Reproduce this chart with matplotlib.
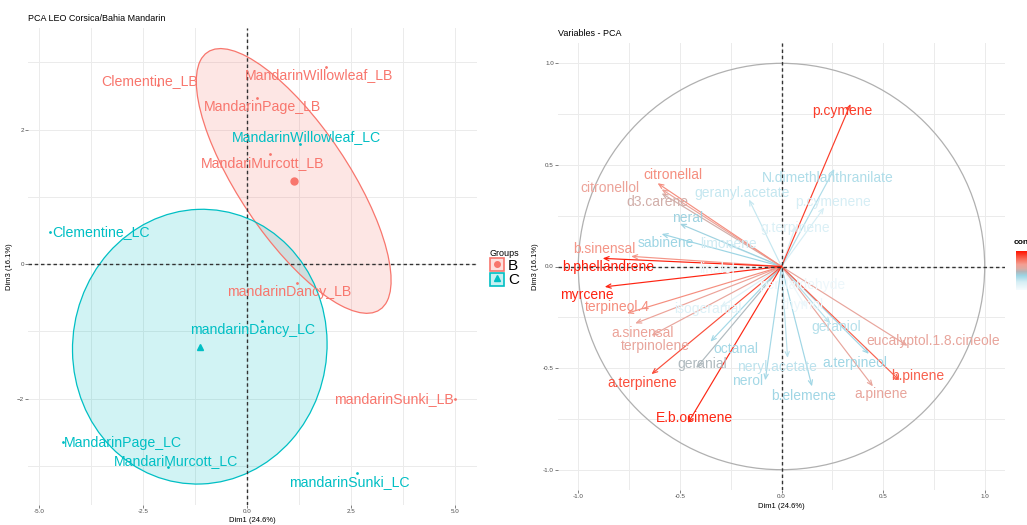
import numpy as np
import matplotlib.pyplot as plt
from matplotlib.patches import Ellipse, Patch, Circle
from matplotlib.lines import Line2D
from matplotlib.legend_handler import HandlerTuple
from matplotlib.colors import LinearSegmentedColormap, Normalize
from matplotlib.cm import ScalarMappable

plt.rcParams['font.family'] = ['Liberation Sans', 'DejaVu Sans']

# ---- individuals (Dim1 / Dim3 scores) ----
ind_names = ['Clementine_LB', 'MandarinWillowleaf_LB', 'MandarinPage_LB', 'MandariMurcott_LB',
             'mandarinDancy_LB', 'mandarinSunki_LB',
             'MandarinWillowleaf_LC', 'Clementine_LC', 'mandarinDancy_LC', 'MandarinPage_LC',
             'MandariMurcott_LC', 'mandarinSunki_LC']
ind_group = ['B'] * 6 + ['C'] * 6
ind_dim1 = [-2.14, 1.90, 0.24, 0.55, 1.20, 5.00, 1.27, -4.74, 0.36, -4.43, -1.90, 2.65]
ind_dim3 = [2.66, 2.93, 2.47, 1.64, -0.28, -2.00, 1.78, 0.48, -0.85, -2.65, -3.02, -3.10]

# ---- variables (correlation circle) ----
var_names = ['p.cymene', 'N.dimethlanthranilate', 'p.cymenene', 'g.terpinene', 'geranyl.acetate',
             'citronellal', 'citronellol', 'd3.carene', 'neral', 'sabinene', 'limonene',
             'b.sinensal', 'b.phellandrene', 'myrcene', 'terpineol.4', 'a.sinensal', 'terpinolene',
             'a.terpinene', 'E.b.ocimene', 'isogeranial', 'octanal', 'geranial', 'neryl.acetate',
             'nerol', 'b.elemene', 'geraniol', 'a.terpineol', 'eucalyptol.1.8.cineole', 'b.pinene',
             'a.pinene', 'linalol', 'perillaldehyde', 'thymol']
var_dim1 = [0.34, 0.26, 0.21, 0.07, -0.16, -0.61, -0.59, -0.59, -0.50, -0.59, -0.27,
            -0.74, -0.88, -0.87, -0.76, -0.72, -0.64, -0.64, -0.46, -0.30, -0.35, -0.42, 0.03,
            -0.08, 0.15, 0.24, 0.43, 0.62, 0.58, 0.45, -0.30, 0.10, 0.12]
var_dim3 = [0.80, 0.48, 0.29, 0.20, 0.33, 0.41, 0.38, 0.36, 0.21, 0.16, 0.11,
            0.05, 0.04, -0.10, -0.23, -0.28, -0.34, -0.53, -0.77, -0.20, -0.37, -0.50, -0.45,
            -0.56, -0.59, -0.28, -0.43, -0.39, -0.56, -0.59, -0.02, -0.10, -0.20]
var_contrib = [0.90, 0.32, 0.20, 0.17, 0.25, 0.70, 0.62, 0.53, 0.38, 0.37, 0.22,
               0.68, 0.97, 0.96, 0.70, 0.62, 0.60, 0.86, 0.95, 0.16, 0.35, 0.46, 0.28,
               0.35, 0.36, 0.30, 0.36, 0.60, 0.82, 0.60, 0.06, 0.06, 0.06]

# label nudges (pixels, x right / y down), ggrepel-like placement
ind_nudge = {'Clementine_LB': (-8, -4), 'MandarinWillowleaf_LB': (-7, 8), 'MandarinPage_LB': (6, 9),
             'MandariMurcott_LB': (-7, 9), 'mandarinDancy_LB': (-8, 9), 'mandarinSunki_LB': (-61, 0),
             'MandarinWillowleaf_LC': (7, -7), 'Clementine_LC': (51, 0), 'mandarinDancy_LC': (-9, 9),
             'MandarinPage_LC': (60, 1), 'MandariMurcott_LC': (8, -6), 'mandarinSunki_LC': (-8, 9)}
var_nudge = {'p.cymene': (-8, 7), 'N.dimethlanthranilate': (-7, 9), 'p.cymenene': (9, -6),
             'g.terpinene': (-1, 2), 'geranyl.acetate': (-7, -6), 'citronellal': (15, -8),
             'citronellol': (-52, -1), 'd3.carene': (-4, 9), 'neral': (8, -6), 'sabinene': (4, 9),
             'limonene': (2, 0), 'b.sinensal': (-27, -7), 'b.phellandrene': (5, 9), 'myrcene': (-18, 8),
             'terpineol.4': (-10, -6), 'a.sinensal': (7, 10), 'terpinolene': (4, 10),
             'a.terpinene': (-9, 9), 'E.b.ocimene': (6, -5), 'isogeranial': (-13, 2), 'octanal': (25, 7),
             'geranial': (6, -4), 'neryl.acetate': (-11, 9), 'nerol': (-18, 1), 'b.elemene': (-8, 10),
             'geraniol': (6, 4), 'a.terpineol': (-14, 9), 'eucalyptol.1.8.cineole': (26, -5),
             'b.pinene': (18, -4), 'a.pinene': (8, 8), 'linalol': (-4, -2), 'perillaldehyde': (0, -2),
             'thymol': (-2, -2)}

group_cols = {'B': '#F8766D', 'C': '#00BFC4'}
px = 72 / 100.0

fig = plt.figure(figsize=(10.27, 5.25), dpi=100)

# ================= left: individuals =================
ax = fig.add_axes([28 / 1027, 20 / 525, 449 / 1027, 477 / 525])
ax.set_xlim(-5.26, 5.53)
ax.set_ylim(-3.58, 3.51)
ax.set_xticks([-5, -2.5, 0, 2.5, 5])
ax.set_xticklabels(['-5.0', '-2.5', '0.0', '2.5', '5.0'])
ax.set_xticks([-3.75, -1.25, 1.25, 3.75], minor=True)
ax.set_yticks([-2, 0, 2])
ax.set_yticks([-3, -1, 1, 3], minor=True)

x1 = np.array(ind_dim1)
y1 = np.array(ind_dim3)
grp = np.array(ind_group)
for g, mk in [('B', 'o'), ('C', '^')]:
    m = grp == g
    col = group_cols[g]
    xs, ys = x1[m], y1[m]
    cov = np.cov(xs, ys)
    vals, vecs = np.linalg.eigh(cov)
    ang = np.degrees(np.arctan2(vecs[1, 1], vecs[0, 1]))
    ax.add_patch(Ellipse((xs.mean(), ys.mean()), 2 * np.sqrt(vals[1]), 2 * np.sqrt(vals[0]),
                         angle=ang, facecolor=col, alpha=0.18, edgecolor='none', zorder=2))
    ax.add_patch(Ellipse((xs.mean(), ys.mean()), 2 * np.sqrt(vals[1]), 2 * np.sqrt(vals[0]),
                         angle=ang, facecolor='none', edgecolor=col, lw=0.9, zorder=3))
    ax.plot(xs, ys, ls='', marker='.', ms=2, color=col, zorder=4)
    ax.plot([xs.mean()], [ys.mean()], ls='', marker=mk, ms=5, color=col, zorder=4)

for n, xv, yv, g in zip(ind_names, ind_dim1, ind_dim3, ind_group):
    dx, dy = ind_nudge[n]
    ax.annotate(n, (xv, yv), xytext=(dx * px, -dy * px), textcoords='offset points',
                ha='center', va='center', fontsize=10.2, color=group_cols[g], zorder=5)

ax.axhline(0, color='#333333', lw=1.0, ls=(0, (2.5, 2)), zorder=3)
ax.axvline(0, color='#333333', lw=1.0, ls=(0, (2.5, 2)), zorder=3)
ax.grid(which='both', color='#EBEBEB', lw=0.7, zorder=0)
ax.set_axisbelow(True)
for s in ax.spines.values():
    s.set_visible(False)
ax.tick_params(which='major', labelsize=4.5, labelcolor='#4D4D4D', color='#4D4D4D',
               length=2, width=0.5, pad=1)
ax.tick_params(which='minor', length=0)
ax.set_xlabel('Dim1 (24.6%)', fontsize=5.5, labelpad=2)
ax.set_ylabel('Dim3 (16.1%)', fontsize=5.5, labelpad=3)
ax.set_title('PCA LEO Corsica/Bahia Mandarin', loc='left', fontsize=6.5, pad=5)

handles = []
for g, mk in [('B', 'o'), ('C', '^')]:
    col = group_cols[g]
    handles.append((Patch(facecolor=col, alpha=0.22, edgecolor='none'),
                    Patch(facecolor='none', edgecolor=col, lw=1.2),
                    Line2D([], [], ls='', marker=mk, ms=4, color=col)))
leg = ax.legend(handles, ['B', 'C'], handler_map={tuple: HandlerTuple(ndivide=1)},
                loc='upper left', bbox_to_anchor=(479 / 1027, 287 / 525),
                bbox_transform=fig.transFigure, frameon=False, fontsize=11,
                title='Groups', title_fontsize=6.5, alignment='left',
                handlelength=0.95, handleheight=0.95, handletextpad=0.25,
                labelspacing=0.0, borderpad=0.2)

# ================= right: variables =================
cmap = LinearSegmentedColormap.from_list('contrib', [
    (0.0, '#f6fbfd'), (0.2, '#d6eef5'), (0.37, '#9dd5e4'), (0.47, '#b2b7ba'),
    (0.55, '#dcaba3'), (0.65, '#f3a094'), (0.78, '#f7725f'), (1.0, '#ff1200')])
norm = Normalize(0, 1)

ax2 = fig.add_axes([558 / 1027, 35 / 525, 447 / 1027, 447 / 525])
ax2.set_xlim(-1.10, 1.10)
ax2.set_ylim(-1.10, 1.10)
ax2.set_xticks([-1, -0.5, 0, 0.5, 1])
ax2.set_xticklabels(['-1.0', '-0.5', '0.0', '0.5', '1.0'])
ax2.set_yticks([-1, -0.5, 0, 0.5, 1])
ax2.set_yticklabels(['-1.0', '-0.5', '0.0', '0.5', '1.0'])
ax2.set_xticks([-0.75, -0.25, 0.25, 0.75], minor=True)
ax2.set_yticks([-0.75, -0.25, 0.25, 0.75], minor=True)
ax2.add_patch(Circle((0, 0), 1, fill=False, ec='#B0B0B0', lw=0.9, zorder=2))

order = np.argsort(var_contrib)
for i in order:
    col = cmap(norm(var_contrib[i]))
    ax2.annotate('', xy=(var_dim1[i], var_dim3[i]), xytext=(0, 0),
                 arrowprops=dict(arrowstyle='->,head_length=0.35,head_width=0.15',
                                 color=col, lw=0.85, shrinkA=0, shrinkB=0), zorder=3)
for i in order:
    col = cmap(norm(var_contrib[i]))
    dx, dy = var_nudge[var_names[i]]
    ax2.annotate(var_names[i], (var_dim1[i], var_dim3[i]), xytext=(dx * px, -dy * px),
                 textcoords='offset points', ha='center', va='center', fontsize=10,
                 color=col, zorder=4)

ax2.axhline(0, color='#333333', lw=1.0, ls=(0, (2.5, 2)), zorder=3)
ax2.axvline(0, color='#333333', lw=1.0, ls=(0, (2.5, 2)), zorder=3)
ax2.grid(which='both', color='#EBEBEB', lw=0.7, zorder=0)
ax2.set_axisbelow(True)
for s in ax2.spines.values():
    s.set_visible(False)
ax2.tick_params(which='major', labelsize=4.5, labelcolor='#4D4D4D', color='#4D4D4D',
                length=2, width=0.5, pad=1)
ax2.tick_params(which='minor', length=0)
ax2.set_xlabel('Dim1 (24.6%)', fontsize=5.5, labelpad=3)
ax2.set_ylabel('Dim3 (16.1%)', fontsize=5.5, labelpad=3)
ax2.set_title('Variables - PCA', loc='left', fontsize=6.5, pad=5)

# contrib colour bar (runs off the right edge, as in the original)
cax = fig.add_axes([1016 / 1027, 235 / 525, 20 / 1027, 39 / 525])
cb = fig.colorbar(ScalarMappable(norm=norm, cmap=cmap), cax=cax)
cb.outline.set_visible(False)
cb.set_ticks([])
fig.text(1014 / 1027, 282 / 525, 'contrib', fontsize=6, fontweight='bold', va='center')

fig.savefig('out.png', dpi=100)
